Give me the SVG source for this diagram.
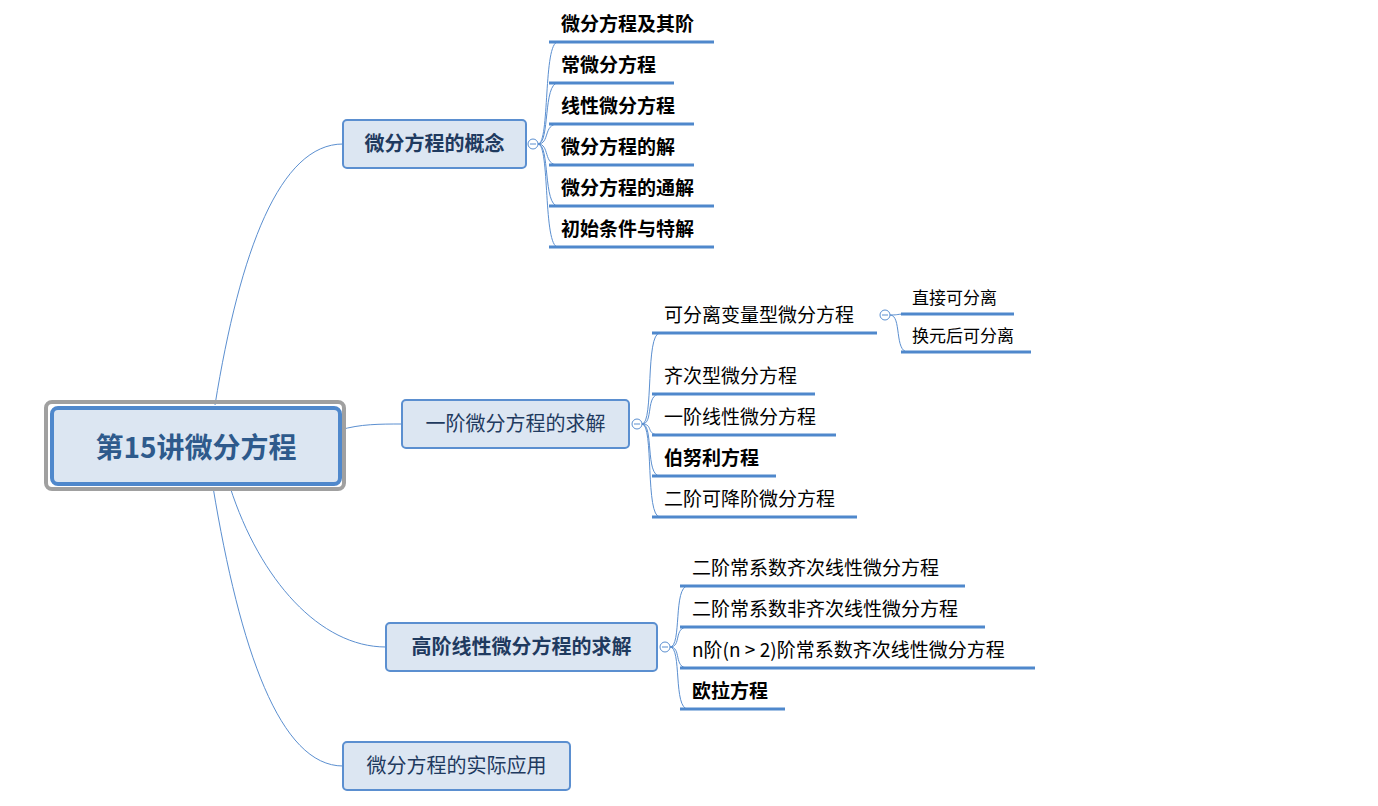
<svg xmlns="http://www.w3.org/2000/svg" width="1378" height="806" viewBox="0 0 1378 806">
<style>
text{font-family:"Noto Sans CJK SC","Noto Sans",sans-serif;}
.l1{fill:#dce6f2;stroke:#5b8fd0;stroke-width:2;}
.t1{font-size:20px;fill:#1f3a5f;text-anchor:middle;}
.b{font-weight:bold;}
.t2{font-size:19px;fill:#000;}
.t3{font-size:17px;fill:#000;}
.ul{stroke:#4f88cc;stroke-width:3;fill:none;}
.c{stroke:#5b8fd0;stroke-width:1;fill:none;}
.cc{fill:#fff;stroke:#5b8fd0;stroke-width:1;}
</style>
<rect width="1378" height="806" fill="#fff"/>
<g id="connectors">
<path class="c" d="M215,405 C240,250 280,144 343,144"/>
<path class="c" d="M340,430 C360,424 380,424 402,424"/>
<path class="c" d="M230,487 C260,580 320,647 386,647"/>
<path class="c" d="M213,487 C240,650 280,766 343,766"/>
<g id="c-concept">
<path class="c" d="M538,144 C550,144 543,42 558,42"/>
<path class="c" d="M538,144 C550,144 543,83 558,83"/>
<path class="c" d="M538,144 C550,144 543,124 558,124"/>
<path class="c" d="M538,144 C550,144 543,165 558,165"/>
<path class="c" d="M538,144 C550,144 543,206 558,206"/>
<path class="c" d="M538,144 C550,144 543,247 558,247"/>
</g>
<g id="c-first">
<path class="c" d="M642,424 C654,424 645,333 660,333"/>
<path class="c" d="M642,424 C654,424 645,394 660,394"/>
<path class="c" d="M642,424 C654,424 645,435 660,435"/>
<path class="c" d="M642,424 C654,424 645,476 660,476"/>
<path class="c" d="M642,424 C654,424 645,517 660,517"/>
<path class="c" d="M890,315 C900,315 895,314 908,314"/>
<path class="c" d="M890,315 C902,315 894,352 908,352"/>
</g>
<g id="c-high">
<path class="c" d="M670,647 C682,647 673,586 688,586"/>
<path class="c" d="M670,647 C682,647 673,627 688,627"/>
<path class="c" d="M670,647 C682,647 673,668 688,668"/>
<path class="c" d="M670,647 C682,647 673,709 688,709"/>
</g>
</g>
<g id="root">
<rect x="46" y="402" width="298" height="87" rx="6" fill="none" stroke="#a0a0a0" stroke-width="4"/>
<rect x="52" y="408" width="288" height="76" rx="6" fill="#dce6f2" stroke="#4f88cc" stroke-width="4"/>
<text x="196" y="458" font-size="28" font-weight="bold" fill="#2e5a8c" text-anchor="middle">第15讲微分方程</text>
</g>
<g id="concept">
<rect class="l1" x="343" y="120" width="183" height="48" rx="4"/>
<text class="t1 b" x="434.5" y="151">微分方程的概念</text>
<circle class="cc" cx="533" cy="144" r="5"/><line x1="530" y1="144" x2="536" y2="144" stroke="#5b8fd0"/>
</g>
<g id="concept-children">
<g id="n1"><line class="ul" x1="549" y1="42" x2="714" y2="42"/><text class="t2 b" x="561" y="31">微分方程及其阶</text></g>
<g id="n2"><line class="ul" x1="549" y1="83" x2="674" y2="83"/><text class="t2 b" x="561" y="72">常微分方程</text></g>
<g id="n3"><line class="ul" x1="549" y1="124" x2="694" y2="124"/><text class="t2 b" x="561" y="113">线性微分方程</text></g>
<g id="n4"><line class="ul" x1="549" y1="165" x2="694" y2="165"/><text class="t2 b" x="561" y="154">微分方程的解</text></g>
<g id="n5"><line class="ul" x1="549" y1="206" x2="714" y2="206"/><text class="t2 b" x="561" y="195">微分方程的通解</text></g>
<g id="n6"><line class="ul" x1="549" y1="247" x2="714" y2="247"/><text class="t2 b" x="561" y="236">初始条件与特解</text></g>
</g>
<g id="first">
<rect class="l1" x="402" y="400" width="227" height="48" rx="4"/>
<text class="t1" x="515.5" y="431">一阶微分方程的求解</text>
<circle class="cc" cx="637" cy="424" r="5"/><line x1="634" y1="424" x2="640" y2="424" stroke="#5b8fd0"/>
</g>
<g id="first-children">
<g id="f1"><line class="ul" x1="652" y1="333" x2="877" y2="333"/><text class="t2" x="664" y="322">可分离变量型微分方程</text>
<circle class="cc" cx="885" cy="315" r="5"/><line x1="882" y1="315" x2="888" y2="315" stroke="#5b8fd0"/></g>
<g id="f1a"><line class="ul" x1="901" y1="314" x2="1014" y2="314"/><text class="t3" x="912" y="304">直接可分离</text></g>
<g id="f1b"><line class="ul" x1="901" y1="352" x2="1031" y2="352"/><text class="t3" x="912" y="342">换元后可分离</text></g>
<g id="f2"><line class="ul" x1="652" y1="394" x2="815" y2="394"/><text class="t2" x="664" y="383">齐次型微分方程</text></g>
<g id="f3"><line class="ul" x1="652" y1="435" x2="836" y2="435"/><text class="t2" x="664" y="424">一阶线性微分方程</text></g>
<g id="f4"><line class="ul" x1="652" y1="476" x2="776" y2="476"/><text class="t2 b" x="664" y="465">伯努利方程</text></g>
<g id="f5"><line class="ul" x1="652" y1="517" x2="857" y2="517"/><text class="t2" x="664" y="506">二阶可降阶微分方程</text></g>
</g>
<g id="high">
<rect class="l1" x="386" y="623" width="271" height="48" rx="4"/>
<text class="t1 b" x="521.5" y="654">高阶线性微分方程的求解</text>
<circle class="cc" cx="665" cy="647" r="5"/><line x1="662" y1="647" x2="668" y2="647" stroke="#5b8fd0"/>
</g>
<g id="high-children">
<g id="h1"><line class="ul" x1="680" y1="586" x2="965" y2="586"/><text class="t2" x="692" y="575">二阶常系数齐次线性微分方程</text></g>
<g id="h2"><line class="ul" x1="680" y1="627" x2="985" y2="627"/><text class="t2" x="692" y="616">二阶常系数非齐次线性微分方程</text></g>
<g id="h3"><line class="ul" x1="680" y1="668" x2="1035" y2="668"/><text class="t2" x="692" y="657">n阶(n &gt; 2)阶常系数齐次线性微分方程</text></g>
<g id="h4"><line class="ul" x1="680" y1="709" x2="785" y2="709"/><text class="t2 b" x="692" y="698">欧拉方程</text></g>
</g>
<g id="app">
<rect class="l1" x="343" y="742" width="227" height="48" rx="4"/>
<text class="t1" x="456.5" y="773">微分方程的实际应用</text>
</g>
</svg>
